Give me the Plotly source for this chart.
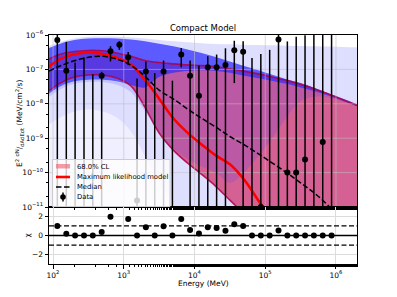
import plotly.graph_objects as go

# ---------------- data ----------------
ENERGY = [115, 154, 205, 274, 365, 487, 649, 866, 1155, 1540, 2054, 2738,
          3652, 4870, 6494, 8660, 11548, 15399, 20535, 27384, 36517, 48697,
          64938, 86596, 115478, 153993, 205353, 273842, 365174, 486968,
          649382, 865964]
BELOW = 1e-13  # error bar continues below the axis
FLUX = [7.1e-7, 9.1e-8, None, None, None, 6.5e-8, 3.35e-7, 5.2e-7, 2.25e-7,
        1.55e-11, 8.7e-8, None, 8.7e-8, None, 2.7e-7, 6.5e-8, 1.7e-8, 1.15e-7,
        1.15e-7, 1.35e-7, 3.6e-7, 3.25e-7, None, 1.0e-11, None, 7.4e-7,
        1.0e-10, 1.0e-10, 2.4e-10, None, 7.8e-10, None]
FLUX_HI = [1.5e-6, 6.3e-7, 1.6e-7, 2.2e-7, 7.2e-8, 8.5e-8, 4.7e-7, 6.6e-7,
           3.2e-7, 5.4e-8, 1.7e-7, 7.8e-8, 1.8e-7, 4.7e-8, 4.2e-7, 1.8e-7,
           1.3e-7, 2.4e-7, 2.7e-7, 4.1e-7, 6.8e-7, 6.6e-7, 2.15e-7, 2.8e-7,
           3.7e-7, 1.3e-6, 6.5e-7, 8.9e-7, 9.8e-7, 1.2e-6, 1.3e-6, 1.3e-6]
FLUX_LO = [BELOW, BELOW, BELOW, BELOW, BELOW, BELOW, 1.7e-7, 3.7e-7, 1.35e-7,
           BELOW, BELOW, BELOW, BELOW, BELOW, 1.15e-7, BELOW, BELOW, BELOW,
           BELOW, BELOW, 4.0e-8, BELOW, BELOW, BELOW, BELOW, BELOW, BELOW,
           BELOW, BELOW, BELOW, BELOW, BELOW]
RESID = [0.99, 0.17, 0, 0, 0, 0.35, 1.94, 3.3, 1.7, 0, 0.85, 0, 0.95, 0, 1.7,
         0.58, 0.2, 0.85, 0.78, 0.48, 1.16, 0.99, 0, 0, 0, 0.51, 0, 0, 0, 0,
         0, 0]

CURVE_E = [87.7, 126, 200, 316, 501, 794, 1259, 1995, 3162, 5012, 7943,
           12589, 19953, 31623, 50119, 79433, 125893, 199526, 316228, 501187,
           794328, 1258925, 1981527]
FLOOR = [1e-13] * len(CURVE_E)
ML_E = CURVE_E[:18]
ML = [1.2e-7, 2.0e-7, 2.75e-7, 3.1e-7, 2.8e-7, 2.2e-7, 1.38e-7, 5.0e-8,
      1.41e-8, 3.8e-9, 1.45e-9, 6.6e-10, 3.16e-10, 1.74e-10, 6.3e-11,
      1.58e-11, 4.0e-12, 1.0e-12]
MEDIAN = [8.9e-8, 1.26e-7, 1.78e-7, 2.24e-7, 2.4e-7, 2.0e-7, 1.32e-7, 6.3e-8,
          2.5e-8, 1.38e-8, 7.1e-9, 3.8e-9, 2.1e-9, 1.12e-9, 6.5e-10, 3.55e-10,
          1.9e-10, 1.0e-10, 5.0e-11, 2.5e-11, 1.05e-11, 4.0e-12, 1.6e-12]
BAND_UP = [2.0e-7, 2.75e-7, 3.3e-7, 3.55e-7, 3.47e-7, 3.0e-7, 2.4e-7, 1.82e-7,
           1.58e-7, 1.45e-7, 1.35e-7, 1.29e-7, 1.2e-7, 1.05e-7, 8.9e-8, 7.4e-8,
           6.0e-8, 4.8e-8, 3.7e-8, 2.7e-8, 1.9e-8, 1.32e-8, 9.1e-9]
BAND_LO = [2.4e-8, 4.0e-8, 6.0e-8, 6.9e-8, 6.9e-8, 5.6e-8, 3.3e-8, 7.9e-9,
           1.41e-9, 4.5e-10, 1.9e-10, 8.9e-11, 4.0e-11, 1.58e-11, 6.3e-12,
           2.5e-12, 1e-13, 1e-13, 1e-13, 1e-13, 1e-13, 1e-13, 1e-13]
BLUE_TOP = [4.8e-7, 6.3e-7, 7.9e-7, 8.9e-7, 9.1e-7, 8.9e-7, 8.5e-7, 7.9e-7,
            7.2e-7, 6.6e-7, 6.2e-7, 5.75e-7, 5.5e-7, 5.4e-7, 5.25e-7, 5.1e-7,
            5.0e-7, 4.9e-7, 4.8e-7, 4.7e-7, 4.6e-7, 4.5e-7, 4.4e-7]
MID_BOT = [2.5e-9, 4.0e-9, 6.0e-9, 7.0e-9, 6.0e-9, 4.0e-9, 1.6e-9, 3.0e-10,
           5.0e-11, 1.2e-11, 1e-13, 1e-13, 1e-13, 1e-13, 1e-13, 1e-13, 1e-13,
           1e-13, 1e-13, 1e-13, 1e-13, 1e-13, 1e-13]
MED_BOT = [1.6e-8, 2.6e-8, 3.8e-8, 4.3e-8, 4.3e-8, 3.6e-8, 2.2e-8, 6.0e-9,
           1.5e-9, 5.0e-10, 2.5e-10, 1.5e-10, 1.0e-10, 5.0e-11, 1.0e-10,
           3.0e-10, 1.0e-9, 4.0e-9, 1.2e-8, 1.6e-8, 1.5e-8, 1.15e-8, 8.5e-9]
DENSE_TOP = [4.2e-7, 5.6e-7, 7.1e-7, 7.9e-7, 8.1e-7, 7.9e-7, 7.4e-7, 6.6e-7,
             5.6e-7, 4.7e-7, 3.8e-7, 3.0e-7, 2.3e-7, 1.7e-7, 1.25e-7, 9.5e-8,
             7.0e-8, 5.2e-8, 4.0e-8, 2.9e-8, 2.0e-8, 1.4e-8, 9.5e-9]
DENSE_BOT = [2.0e-8, 3.2e-8, 4.5e-8, 5.0e-8, 5.0e-8, 4.5e-8, 3.5e-8, 3.0e-8,
             6.0e-8, 8.0e-8, 9.0e-8, 9.5e-8, 9.0e-8, 8.0e-8, 6.5e-8, 5.5e-8,
             4.6e-8, 3.8e-8, 3.0e-8, 2.3e-8, 1.7e-8, 1.2e-8, 8.5e-9]

X_TICKS = [1e2, 1e3, 1e4, 1e5, 1e6]
X_EXP = [2, 3, 4, 5, 6]
Y_TICKS = [1e-11, 1e-10, 1e-9, 1e-8, 1e-7, 1e-6]
Y_EXP = [-11, -10, -9, -8, -7, -6]
X_RANGE = [87.7, 1981527]
Y_RANGE = [1e-11, 1e-6]
CHI_TICKS = [-2, 0, 2]
CHI_TEXT = ["−2", "0", "2"]
LEGEND_LABELS = ["68.0% CL", "Maximum likelihood model", "Median", "Data"]

# ---------------- figure ----------------
FONT = "DejaVu Sans"
fig = go.Figure()
main = dict(xaxis="x", yaxis="y")
nolg = dict(showlegend=False, hoverinfo="skip")
BAND_COLOR = "rgba(240,45,75,0.74)"


def band(lo, hi, color, shape="spline"):
    fig.add_trace(go.Scatter(x=CURVE_E, y=lo, mode="lines", line=dict(width=0, shape=shape),
                             **main, **nolg))
    fig.add_trace(go.Scatter(x=CURVE_E, y=hi, mode="lines", line=dict(width=0, shape=shape),
                             fill="tonexty", fillcolor=color, **main, **nolg))


# 68% band underneath, posterior-sample density (blue) over it
band(BAND_LO, BAND_UP, BAND_COLOR)
band(FLOOR, BLUE_TOP, "rgba(100,100,255,0.10)")
band(MID_BOT, BLUE_TOP, "rgba(80,80,255,0.10)")
band(MED_BOT, DENSE_BOT, "rgba(60,60,255,0.17)")
band(DENSE_BOT, DENSE_TOP, "rgba(40,40,255,0.72)")
for arr in (BAND_LO, BAND_UP):
    fig.add_trace(go.Scatter(x=CURVE_E, y=arr, mode="lines",
                             line=dict(width=1.6, color="rgba(175,0,70,0.85)", shape="spline"),
                             **main, **nolg))

# grid lines drawn above the bands (as in the reference)
gx, gy = [], []
for t in X_TICKS:
    gx += [t, t, None]
    gy += [Y_RANGE[0], Y_RANGE[1], None]
for t in Y_TICKS[1:-1]:
    gx += [X_RANGE[0], X_RANGE[1], None]
    gy += [t, t, None]
fig.add_trace(go.Scatter(x=gx, y=gy, mode="lines",
                         line=dict(width=0.8, color="rgba(190,190,190,0.7)"), **main, **nolg))

fig.add_trace(go.Scatter(x=ML_E, y=ML, mode="lines",
                         line=dict(color="#ff0000", width=2.6, shape="spline"), **main, **nolg))
fig.add_trace(go.Scatter(x=CURVE_E, y=MEDIAN, mode="lines",
                         line=dict(color="black", width=1.5, dash="5.5px,2.5px", shape="spline"),
                         **main, **nolg))

ex, ey = [], []
for e, lo, hi in zip(ENERGY, FLUX_LO, FLUX_HI):
    ex += [e, e, None]
    ey += [lo, hi, None]
fig.add_trace(go.Scatter(x=ex, y=ey, mode="lines", line=dict(color="black", width=1.5),
                         **main, **nolg))
fig.add_trace(go.Scatter(x=ENERGY, y=FLUX, mode="markers",
                         marker=dict(color="black", size=6), **main, **nolg))

# residuals
fig.add_trace(go.Scatter(x=X_RANGE, y=[0, 0], mode="lines", line=dict(color="black", width=1.3),
                         xaxis="x2", yaxis="y2", **nolg))
for v in (1, -1):
    fig.add_trace(go.Scatter(x=X_RANGE, y=[v, v], mode="lines",
                             line=dict(color="black", width=1.3, dash="5px,2.5px"),
                             xaxis="x2", yaxis="y2", **nolg))
fig.add_trace(go.Scatter(x=ENERGY, y=RESID, mode="markers", marker=dict(color="black", size=6),
                         xaxis="x2", yaxis="y2", **nolg))

# ---------------- layout ----------------
W, H = 397, 297
L, R, T, B = 49, 40, 35, 33
PW, PH = W - L - R, H - T - B
SPLIT = (264 - 207) / PH


def px(x):
    return (x - L) / PW


def py(y):
    return (H - B - y) / PH


axis_common = dict(showline=True, mirror=True, linecolor="black", linewidth=1,
                   ticks="outside", ticklen=3.5, tickwidth=0.8, tickcolor="black",
                   tickfont=dict(size=7.5, color="black", family=FONT), zeroline=False,
                   automargin=False)
minor = dict(ticks="outside", ticklen=2, tickwidth=0.6, tickcolor="black", showgrid=False)
xr = [1.943, 6.297]
x_text = [f"10<sup>{e}</sup>" for e in X_EXP]
y_text = [f"10<sup>{str(e).replace('-', '−')}</sup>" for e in Y_EXP]

# hand-built legend (compact, like the reference)
shapes = [
    dict(type="rect", xref="paper", yref="paper", x0=px(52.5), x1=px(170), y0=py(206.5),
         y1=py(159.5), fillcolor="rgba(255,255,255,0.8)", line=dict(color="#cccccc", width=1),
         layer="above"),
    dict(type="rect", xref="paper", yref="paper", x0=px(56), x1=px(70), y0=py(168.5),
         y1=py(164), fillcolor="rgba(240,90,110,0.6)", line=dict(width=0), layer="above"),
    dict(type="line", xref="paper", yref="paper", x0=px(56), x1=px(70), y0=py(177),
         y1=py(177), line=dict(color="#ff0000", width=2.6), layer="above"),
    dict(type="line", xref="paper", yref="paper", x0=px(56), x1=px(70), y0=py(187),
         y1=py(187), line=dict(color="black", width=1.5, dash="5.5px,2.5px"), layer="above"),
    dict(type="line", xref="paper", yref="paper", x0=px(63), x1=px(63), y0=py(192.5),
         y1=py(201.5), line=dict(color="black", width=1.5), layer="above"),
    dict(type="circle", xref="paper", yref="paper", x0=px(60.2), x1=px(65.8), y0=py(199.8),
         y1=py(194.2), fillcolor="black", line=dict(width=0), layer="above"),
]
legend_rows = [166.5, 177, 187, 197]
annotations = [
    dict(text=lab, x=px(75), y=py(yy), xref="paper", yref="paper", showarrow=False,
         xanchor="left", yanchor="middle", font=dict(size=6.8))
    for lab, yy in zip(LEGEND_LABELS, legend_rows)
]
annotations += [
    dict(text="E<sup>2</sup> <sup>dN</sup>/<sub>dAdEdt</sub> (MeV/cm<sup>2</sup>/s)",
         x=px(19), y=py(124), xref="paper", yref="paper", textangle=-90,
         showarrow=False, font=dict(size=7.5), xanchor="center", yanchor="middle"),
    dict(text="χ", x=px(27), y=py(235.5), xref="paper", yref="paper", textangle=-90,
         showarrow=False, font=dict(size=7.5), xanchor="center", yanchor="middle"),
    dict(text="Energy (MeV)", x=px(203), y=py(283), xref="paper", yref="paper",
         showarrow=False, font=dict(size=7.5), xanchor="center", yanchor="middle"),
]

fig.update_layout(
    width=W, height=H,
    margin=dict(l=L, r=R, t=T, b=B),
    paper_bgcolor="white", plot_bgcolor="white",
    font=dict(family=FONT, size=7.5, color="black"),
    showlegend=False,
    title=dict(text="Compact Model", x=0.5, xref="paper", y=(H - 28) / H, yref="container",
               xanchor="center", yanchor="middle", font=dict(size=8.5, color="black")),
    xaxis=dict(type="log", range=xr, domain=[0, 1], anchor="y", showticklabels=False,
               showgrid=False, tickvals=X_TICKS, minor=minor, **axis_common),
    yaxis=dict(type="log", range=[-11, -6], domain=[SPLIT, 1], anchor="x", tickvals=Y_TICKS,
               ticktext=y_text, showgrid=False, minor=minor, **axis_common),
    xaxis2=dict(type="log", range=xr, domain=[0, 1], anchor="y2", tickvals=X_TICKS,
                ticktext=x_text, showgrid=True, gridcolor="#dcdcdc", gridwidth=0.8,
                minor=minor, **axis_common),
    yaxis2=dict(range=[-2.95, 2.95], domain=[0, SPLIT], anchor="x2", tickvals=CHI_TICKS,
                ticktext=CHI_TEXT, showgrid=True, gridcolor="#dcdcdc", gridwidth=0.8,
                **axis_common),
    shapes=shapes,
    annotations=annotations,
)
fig.write_html("out.html", config={"displayModeBar": False},
               post_script="document.body.style.margin='0px';")
